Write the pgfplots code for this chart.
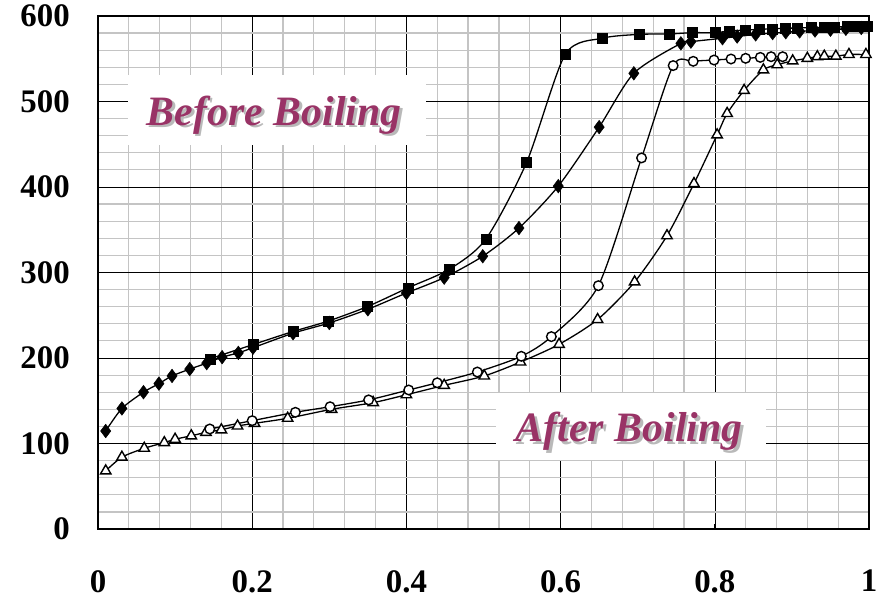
\documentclass[border=0pt]{standalone}
\usepackage{fontspec}
\setmainfont{Liberation Serif}
\usepackage{pgfplots}
\pgfplotsset{compat=1.18}
\definecolor{boil}{RGB}{153,51,102}
\definecolor{minorgrid}{RGB}{196,196,196}
\definecolor{shadowgray}{RGB}{185,185,185}
\begin{document}
\begin{tikzpicture}
\begin{axis}[
  name=ax,
  scale only axis, width=771bp, height=513bp,
  xmin=0, xmax=1, ymin=0, ymax=600,
  xtick={0,0.2,0.4,0.6,0.8,1}, ytick={0,100,200,300,400,500,600},
  xticklabels={0,0.2,0.4,0.6,0.8,1},
  minor x tick num=4, minor y tick num=4,
  grid=both,
  major grid style={black, line width=0.6bp},
  minor grid style={minorgrid, line width=1.2bp},
  axis line style={black, line width=1.5bp},
  tick style={black, line width=0.8bp},
  major tick length=5bp, minor tick length=0pt,
  tick align=inside, xtick pos=bottom, ytick pos=left,
  /pgf/number format/assume math mode=true,
  every tick label/.append style={font=\bfseries\fontsize{33}{33}\selectfont, inner sep=0pt},
  xticklabel style={yshift=-41bp},
  yticklabel style={xshift=-28bp},
  clip=false,
  every axis plot/.append style={black, line width=1.3bp, smooth, tension=0.45},
]
\fill[white] (axis cs:0.039,449) rectangle (axis cs:0.425,531);
\fill[white] (axis cs:0.5156,80.7) rectangle (axis cs:0.866,159);
\node[anchor=base, text=shadowgray, inner sep=0pt, font=\bfseries\itshape\fontsize{42}{42}\selectfont] at ([xshift=2.5bp,yshift=-2.5bp]axis cs:0.2286,472.5) {Before Boiling};
\node[anchor=base, text=boil, inner sep=0pt, font=\bfseries\itshape\fontsize{42}{42}\selectfont] at (axis cs:0.2286,472.5) {Before Boiling};
\node[anchor=base, text=shadowgray, inner sep=0pt, font=\bfseries\itshape\fontsize{42}{42}\selectfont] at ([xshift=2.5bp,yshift=-2.5bp]axis cs:0.689,101.8) {After Boiling};
\node[anchor=base, text=boil, inner sep=0pt, font=\bfseries\itshape\fontsize{42}{42}\selectfont] at (axis cs:0.689,101.8) {After Boiling};

% triangles (open)
\addplot[mark=triangle*, mark size=6bp, mark options={fill=white, draw=black, line width=1.4bp}] coordinates {
(0.010,68) (0.031,84) (0.060,94.4) (0.086,101) (0.100,105) (0.121,109) (0.140,113)
(0.160,116) (0.181,120.5) (0.203,123.6) (0.246,129.5) (0.303,140) (0.357,147.8)
(0.400,157) (0.449,168) (0.501,179) (0.548,195.3) (0.598,216) (0.648,245)
(0.696,289) (0.738,343) (0.773,404) (0.803,461) (0.816,486) (0.838,513)
(0.863,537) (0.881,543) (0.901,547.5) (0.920,550.5) (0.933,552.4) (0.942,553)
(0.957,553) (0.974,555) (0.996,555)
};
% circles (open)
\addplot[mark=*, mark size=4.8bp, mark options={fill=white, draw=black, line width=1.4bp}] coordinates {
(0.145,117) (0.200,126.7) (0.256,136.5) (0.301,143) (0.351,151) (0.403,162.6)
(0.440,171) (0.492,183.6) (0.549,202) (0.588,225) (0.649,284.6) (0.705,434)
(0.746,542) (0.772,547) (0.799,548.5) (0.821,549.7) (0.840,550.5) (0.859,551.6)
(0.873,552.4) (0.888,552.4)
};
% diamonds (filled)
\addplot[mark=diamond*, mark size=6.8bp, mark options={fill=black, draw=black, line width=0.5bp}] coordinates {
(0.010,114.6) (0.031,141) (0.059,160) (0.079,170) (0.096,179) (0.119,187) (0.141,194)
(0.161,201) (0.182,206) (0.201,212) (0.253,229) (0.300,241) (0.350,257) (0.400,276)
(0.449,294) (0.499,319) (0.546,352) (0.597,401) (0.650,470) (0.695,533) (0.756,568)
(0.769,570) (0.810,574) (0.829,576) (0.853,578.5) (0.875,580) (0.892,581) (0.910,582)
(0.930,583) (0.950,584) (0.970,585) (0.990,586)
};
% squares (filled)
\addplot[mark=square*, mark size=5bp, mark options={fill=black, draw=black, line width=0.5bp}] coordinates {
(0.145,199) (0.202,216) (0.253,231) (0.298,243) (0.349,260) (0.402,282) (0.456,304)
(0.503,339) (0.556,429) (0.606,555) (0.654,574) (0.702,578.5) (0.741,579) (0.771,580.5)
(0.801,580.5) (0.819,582.5) (0.840,583.5) (0.858,584.4) (0.875,585) (0.892,585.6)
(0.907,586) (0.925,586.4) (0.942,586.4) (0.955,587) (0.972,587.5) (0.985,587.5) (0.998,587.5)
};
\end{axis}
\path ([shift={(-98bp,-69bp)}]ax.south west) rectangle ([shift={(16bp,16bp)}]ax.north east);
\end{tikzpicture}
\end{document}
